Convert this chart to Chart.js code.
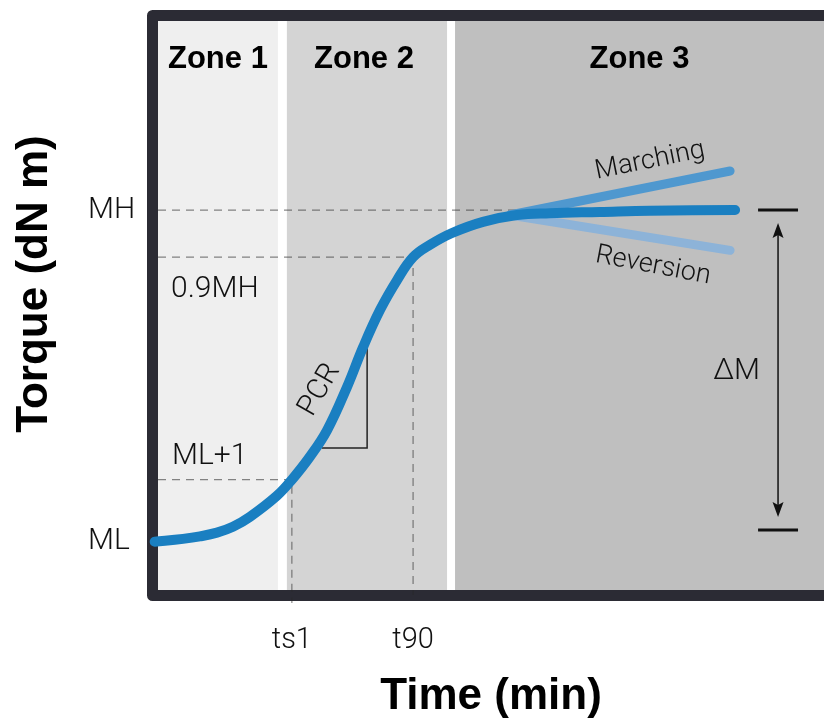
<!DOCTYPE html>
<html>
<head>
<meta charset="utf-8">
<script src="https://cdn.jsdelivr.net/npm/chart.js@4.4.1/dist/chart.umd.min.js"></script>
<style>
  html, body { margin: 0; padding: 0; background: #fff; }
  canvas { display: block; }
</style>
</head>
<body>
<canvas id="cure" width="824" height="724"></canvas>
<script>
// Rheometer cure curve: time in minutes, torque in dN·m
const timeMin = [-0.1, 0.75, 1.26, 1.77, 2.25, 2.76, 3.57, 4.02, 4.56, 5.08, 5.68, 6.16, 6.67, 7.18, 7.66, 8.17, 8.83, 9.76, 10.78, 11.77, 13.27, 14.77, 17.33];
const torque  = [2.25, 2.295, 2.335, 2.395, 2.49, 2.65, 2.99, 3.25, 3.62, 4.05, 4.75, 5.39, 5.99, 6.47, 6.84, 7.04, 7.23, 7.41, 7.52, 7.55, 7.57, 7.59, 7.60];

// Post-cure behaviour branches
const marchingTime    = [10.57, 17.18];
const marchingTorque  = [7.52, 8.23];
const reversionTime   = [10.57, 17.18];
const reversionTorque = [7.52, 6.95];

// Characteristic values
const ML = 2.25;
const MH = 7.6;
const ts1 = 4.02;
const t90 = 7.66;
const mhGuideEnd = 10.8;
const guideBottom = [1.26, 1.39];     // lower ends of the ts1 / t90 guides
const deltaLow = 2.44;               // lower bar of the ΔM span
const deltaBarTime = [18.02, 19.22];
const deltaArrowTime = 18.62;

// Cure-rate triangle (PCR)
const pcrTime   = [4.92, 6.28, 6.28];
const pcrTorque = [3.76, 3.76, 5.37];

// Axis ticks
const xTickValues = [ts1, t90];
const xTickLabels = ['ts1', 't90'];
const yTickValues = [ML, MH];
const yTickLabels = ['ML', 'MH'];

// Cure zones
const zoneNames = ['Zone 1', 'Zone 2', 'Zone 3'];
const zoneStart = [0, 3.87, 8.92];
const zoneEnd   = [3.60, 8.68, 20];
const zoneColors = ['#efefef', '#d4d4d4', '#bfbfbf'];

const pts = (xs, ys) => xs.map((v, i) => ({ x: v, y: ys[i] }));
const LIGHT = 'Roboto';
const BOLD = '"Liberation Sans", Arial, sans-serif';

const guide = {
  borderColor: 'rgba(40,40,40,0.55)', borderWidth: 1.2, borderDash: [8, 6],
  pointRadius: 0, tension: 0, clip: false, order: 5
};

const backdrop = {
  id: 'backdrop',
  beforeDatasetsDraw(chart) {
    const { ctx, chartArea: a, scales: { x } } = chart;
    ctx.save();
    zoneNames.forEach((n, i) => {
      const l = Math.max(x.getPixelForValue(zoneStart[i]), a.left);
      const r = Math.min(x.getPixelForValue(zoneEnd[i]), a.right);
      ctx.fillStyle = zoneColors[i];
      ctx.fillRect(l, a.top, r - l, a.bottom - a.top);
    });
    ctx.strokeStyle = '#2b2b34';
    ctx.lineWidth = 11;
    ctx.lineJoin = 'round';
    ctx.beginPath();
    ctx.moveTo(a.right + 20, a.top - 5.5);
    ctx.lineTo(a.left - 5.5, a.top - 5.5);
    ctx.lineTo(a.left - 5.5, a.bottom + 5.5);
    ctx.lineTo(a.right + 20, a.bottom + 5.5);
    ctx.stroke();
    ctx.restore();
  }
};

function rotatedText(ctx, text, cx, cy, deg) {
  ctx.save();
  ctx.translate(cx, cy);
  ctx.rotate(deg * Math.PI / 180);
  ctx.textAlign = 'center';
  ctx.textBaseline = 'middle';
  ctx.fillText(text, 0, 0);
  ctx.restore();
}

const annotations = {
  id: 'annotations',
  afterDatasetsDraw(chart) {
    const { ctx, chartArea: a, scales: { x, y } } = chart;
    ctx.save();

    // zone headings
    ctx.fillStyle = '#000';
    ctx.font = 'bold 31px ' + BOLD;
    ctx.textAlign = 'center';
    ctx.textBaseline = 'alphabetic';
    zoneNames.forEach((n, i) => {
      const l = Math.max(x.getPixelForValue(zoneStart[i]), a.left);
      const r = Math.min(x.getPixelForValue(zoneEnd[i]), a.right);
      ctx.fillText(n, (l + r) / 2 - (i === 1 ? 3 : 0), a.top + 47);
    });

    // level labels inside the plot
    ctx.fillStyle = '#111';
    ctx.font = `300 30px ${LIGHT}`;
    ctx.textAlign = 'left';
    ctx.fillText('0.9MH', a.left + 13, y.getPixelForValue(0.9 * MH) + 40);
    ctx.fillText('ML+1', a.left + 14, y.getPixelForValue(ML + 1) - 16);

    // PCR along the steep part of the curve
    ctx.font = `300 29px ${LIGHT}`;
    rotatedText(ctx, 'PCR', x.getPixelForValue(pcrTime[0]) - 2, y.getPixelForValue(pcrTorque[0]) - 58, -60);

    // branch labels
    ctx.font = `300 27px ${LIGHT}`;
    rotatedText(ctx, 'Marching', 650, 161, -11.5);
    rotatedText(ctx, 'Reversion', 653, 266, 10.8);

    // ΔM span arrow
    const ax = x.getPixelForValue(deltaArrowTime);
    const yTop = y.getPixelForValue(MH) + 13;
    const yBot = y.getPixelForValue(deltaLow) - 13;
    ctx.strokeStyle = '#111';
    ctx.fillStyle = '#111';
    ctx.lineWidth = 1.5;
    ctx.beginPath();
    ctx.moveTo(ax, yTop + 8);
    ctx.lineTo(ax, yBot - 8);
    ctx.stroke();
    ctx.beginPath();
    ctx.moveTo(ax, yTop); ctx.lineTo(ax - 5.5, yTop + 15); ctx.lineTo(ax, yTop + 12); ctx.lineTo(ax + 5.5, yTop + 15);
    ctx.closePath(); ctx.fill();
    ctx.beginPath();
    ctx.moveTo(ax, yBot); ctx.lineTo(ax - 5.5, yBot - 15); ctx.lineTo(ax, yBot - 12); ctx.lineTo(ax + 5.5, yBot - 15);
    ctx.closePath(); ctx.fill();

    ctx.font = `300 30px ${LIGHT}`;
    ctx.textAlign = 'right';
    ctx.textBaseline = 'middle';
    ctx.fillText('ΔM', ax - 18, (y.getPixelForValue(MH) + y.getPixelForValue(deltaLow)) / 2 + 2);

    // vertical axis title
    ctx.save();
    ctx.translate(47, 284);
    ctx.rotate(-Math.PI / 2);
    ctx.fillStyle = '#000';
    ctx.font = 'bold 44px ' + BOLD;
    ctx.textAlign = 'center';
    ctx.textBaseline = 'alphabetic';
    ctx.fillText('Torque (dN m)', 0, 0);
    ctx.restore();

    ctx.restore();
  }
};

new Chart(document.getElementById('cure'), {
  type: 'line',
  data: {
    datasets: [
      { data: pts(timeMin, torque), borderColor: '#1a7fc1', borderWidth: 10,
        borderCapStyle: 'round', borderJoinStyle: 'round', tension: 0.4,
        pointRadius: 0, clip: false, order: 0 },
      { data: pts(marchingTime, marchingTorque), borderColor: '#4f98cf', borderWidth: 9,
        borderCapStyle: 'round', pointRadius: 0, tension: 0, order: 1 },
      { data: pts(reversionTime, reversionTorque), borderColor: '#8db3d8', borderWidth: 9,
        borderCapStyle: 'round', pointRadius: 0, tension: 0, order: 1 },
      { data: [{ x: 0, y: MH }, { x: mhGuideEnd, y: MH }], ...guide },
      { data: [{ x: 0, y: 0.9 * MH }, { x: t90, y: 0.9 * MH }, { x: t90, y: guideBottom[1] }], ...guide },
      { data: [{ x: 0, y: ML + 1 }, { x: ts1, y: ML + 1 }, { x: ts1, y: guideBottom[0] }], ...guide },
      { data: pts(pcrTime, pcrTorque), borderColor: '#222', borderWidth: 1.5, pointRadius: 0, tension: 0, order: 4 },
      { data: pts(deltaBarTime, [MH, MH]), borderColor: '#111', borderWidth: 3, pointRadius: 0, tension: 0, order: 4 },
      { data: pts(deltaBarTime, [deltaLow, deltaLow]), borderColor: '#111', borderWidth: 3, pointRadius: 0, tension: 0, order: 4 }
    ]
  },
  options: {
    responsive: false,
    animation: false,
    devicePixelRatio: 1,
    layout: { padding: { left: 88, top: 21, right: 0, bottom: 0 } },
    plugins: { legend: { display: false }, tooltip: { enabled: false } },
    scales: {
      x: {
        type: 'linear', min: 0, max: 20,
        grid: { display: false }, border: { display: false },
        afterBuildTicks: s => { s.ticks = xTickValues.map(v => ({ value: v })); },
        afterFit: s => { s.height = 134; },
        ticks: {
          autoSkip: false, maxRotation: 0, padding: 25, color: '#111',
          font: { family: LIGHT, weight: '300', size: 29 },
          callback: (v, i) => xTickLabels[i]
        },
        title: {
          display: true, text: 'Time (min)', color: '#000',
          font: { family: BOLD, weight: 'bold', size: 44 },
          padding: { top: 0, bottom: 1 }
        }
      },
      y: {
        type: 'linear', min: 1.47, max: 10.65,
        grid: { display: false }, border: { display: false },
        afterBuildTicks: s => { s.ticks = yTickValues.map(v => ({ value: v })); },
        afterFit: s => { s.width = 70; },
        ticks: {
          autoSkip: false, crossAlign: 'far', padding: 0, color: '#111',
          font: { family: LIGHT, weight: '300', size: 30 },
          callback: (v, i) => yTickLabels[i]
        }
      }
    }
  },
  plugins: [backdrop, annotations]
});
</script>
</body>
</html>
